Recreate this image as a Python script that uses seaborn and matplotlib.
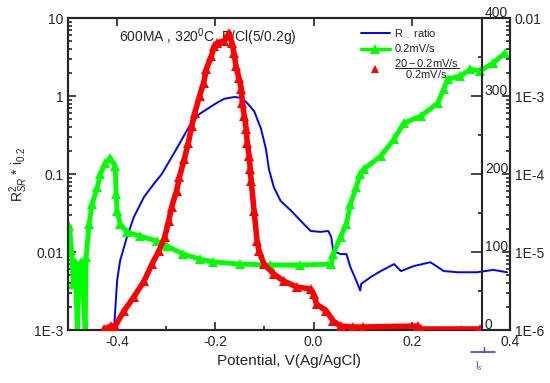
#!/usr/bin/env python3
"""
Polarisation plot: R ratio, 0.2 mV/s current and (20-0.2)/0.2 ratio vs potential.
Three y scales share one potential axis (Origin-style layout).
"""

import matplotlib
matplotlib.use("Agg")
import matplotlib.pyplot as plt
import matplotlib.transforms as mtransforms
from matplotlib.lines import Line2D
from matplotlib.ticker import MultipleLocator, LogLocator, NullFormatter
import numpy as np
import pandas as pd
import seaborn as sns

# --- Data ---
# R ratio, left log axis
BLUE_X = [-0.406, -0.400, -0.394, -0.380, -0.366, -0.345, -0.325, -0.309, -0.279,
          -0.253, -0.232, -0.198, -0.182, -0.162, -0.147, -0.135, -0.121, -0.107,
          -0.097, -0.091, -0.081, -0.067, -0.046, -0.026, -0.006, 0.014, 0.030,
          0.036, 0.040, 0.055, 0.067, 0.075, 0.087, 0.095, 0.097, 0.117, 0.137,
          0.164, 0.178, 0.204, 0.238, 0.265, 0.293, 0.333, 0.366, 0.394]
BLUE_Y = [0.0011, 0.0043, 0.0077, 0.0156, 0.028, 0.051, 0.075, 0.10, 0.21,
          0.41, 0.59, 0.81, 0.92, 0.97, 0.95, 0.81, 0.64, 0.38,
          0.21, 0.116, 0.068, 0.045, 0.034, 0.025, 0.0186, 0.0181, 0.0186,
          0.0156, 0.0103, 0.0094, 0.0094, 0.0064, 0.0043, 0.0032, 0.0039, 0.0048, 0.0057,
          0.0070, 0.0057, 0.0066, 0.0074, 0.0057, 0.0055, 0.0055, 0.0059, 0.0055]

# 0.2 mV/s current, right log axis
GREEN_X = [-0.497, -0.493, -0.489, -0.485, -0.481, -0.477, -0.473, -0.469, -0.465,
           -0.463, -0.457, -0.451, -0.440, -0.434, -0.424, -0.414, -0.404, -0.402,
           -0.400, -0.394, -0.380, -0.354, -0.319, -0.299, -0.265, -0.232, -0.204,
           -0.149, -0.089, -0.028, 0.036, 0.040, 0.055, 0.067, 0.075, 0.087, 0.095,
           0.103, 0.137, 0.164, 0.184, 0.218, 0.253, 0.265, 0.273, 0.299, 0.319,
           0.339, 0.366, 0.390]
GREEN_Y = [2.15e-5, 1.06e-5, 3.9e-6, 7.5e-6, 1.0e-6, 5.1e-6, 7.5e-6, 3.3e-6, 1.0e-6,
           8.6e-6, 2.3e-5, 4.1e-5, 6.8e-5, 1.0e-4, 1.38e-4, 1.60e-4, 1.27e-4, 5.5e-5,
           3.4e-5, 2.3e-5, 1.8e-5, 1.6e-5, 1.38e-5, 1.19e-5, 9.4e-6, 8.1e-6, 7.45e-6,
           7.0e-6, 6.8e-6, 6.8e-6, 7.0e-6, 9.4e-6, 1.56e-5, 2.3e-5, 4.1e-5, 6.8e-5, 1.0e-4,
           1.16e-4, 1.7e-4, 2.8e-4, 4.5e-4, 5.5e-4, 8.1e-4, 1.23e-3, 1.65e-3, 1.8e-3, 2.2e-3,
           2.1e-3, 2.65e-3, 3.56e-3]

# (20-0.2)/0.2 ratio, linear axis 0-400
RED_X = [-0.426, -0.412, -0.404, -0.386, -0.366, -0.345, -0.329, -0.315, -0.303,
         -0.295, -0.289, -0.279, -0.273, -0.263, -0.255, -0.248, -0.242, -0.232,
         -0.224, -0.218, -0.208, -0.202, -0.196, -0.182, -0.172, -0.166, -0.162,
         -0.158, -0.152, -0.147, -0.145, -0.141, -0.137, -0.135, -0.131, -0.129,
         -0.127, -0.121, -0.115, -0.111, -0.101, -0.081, -0.061, -0.034, -0.006,
         0.000, 0.006, 0.026, 0.040, 0.055, 0.081, 0.101, 0.212, 0.218, 0.339]
RED_Y = [1.3, 5.1, 5.1, 24.4, 42.3, 62.8, 84.6, 101.3, 119.2,
         139.7, 157.7, 178.2, 196.2, 219.2, 239.7, 261.5, 278.2, 300.0,
         316.7, 334.6, 351.3, 364.1, 368.0, 370.5, 380.8, 368.0, 355.1,
         338.5, 323.1, 309.0, 291.0, 274.4, 257.7, 239.7, 223.1, 206.4,
         191.0, 152.6, 114.1, 101.3, 84.6, 71.8, 62.8, 55.1, 52.6,
         46.2, 33.3, 24.4, 11.5, 5.1, 3.8, 3.8, 5.1, 1.3, 1.3]

X_TICKS = [-0.4, -0.2, 0.0, 0.2, 0.4]
X_LABELS = ["-0.4", "-0.2", "0.0", "0.2", "0.4"]
LEFT_TICKS = [1e-3, 1e-2, 1e-1, 1, 10]
LEFT_LABELS = ["1E-3", "0.01", "0.1", "1", "10"]
RIGHT_TICKS = [1e-6, 1e-5, 1e-4, 1e-3, 1e-2]
RIGHT_LABELS = ["1E-6", "1E-5", "1E-4", "1E-3", "0.01"]
RED_TICKS = [0, 100, 200, 300, 400]
RED_LABELS = ["0", "100", "200", "300", "400"]

BLUE = "#0000ff"
GREEN = "#00ff00"
RED = "#ff0000"


def style_axis(a):
    a.tick_params(axis="both", which="both", direction="in", width=1.2, labelsize=10)
    a.tick_params(which="major", length=6)
    a.tick_params(which="minor", length=3)


def main():
    sns.set_theme(style="ticks")
    plt.rcParams["font.family"] = ["Liberation Sans", "DejaVu Sans"]
    plt.rcParams["mathtext.fontset"] = "custom"
    plt.rcParams["mathtext.rm"] = "Liberation Sans"
    plt.rcParams["mathtext.it"] = "Liberation Sans:italic"
    plt.rcParams["axes.unicode_minus"] = False
    plt.rcParams["axes.linewidth"] = 1.5

    blue = pd.DataFrame({"x": BLUE_X, "y": BLUE_Y})
    green = pd.DataFrame({"x": GREEN_X, "y": GREEN_Y})
    red = pd.DataFrame({"x": RED_X, "y": RED_Y})

    fig = plt.figure(figsize=(5.5, 3.83), dpi=100)
    ax = fig.add_axes([68 / 550, 53 / 383, 442 / 550, 312 / 383])
    ax2 = ax.twinx()
    ax3 = ax.twinx()

    # left: R ratio
    sns.lineplot(data=blue, x="x", y="y", ax=ax, color=BLUE, lw=1.4,
                 sort=False, estimator=None)
    ax.set_yscale("log")
    ax.set_ylim(1e-3, 10)
    ax.set_xlim(-0.5, 0.4)
    ax.set_xticks(X_TICKS, X_LABELS)
    ax.xaxis.set_minor_locator(MultipleLocator(0.1))
    ax.set_yticks(LEFT_TICKS, LEFT_LABELS)
    ax.yaxis.set_minor_locator(LogLocator(base=10, subs=np.arange(2, 10)))
    ax.yaxis.set_minor_formatter(NullFormatter())
    style_axis(ax)
    ax.tick_params(top=True, right=False)
    ax.set_ylabel(r"R$^2_{SR}$ * i$_{0.2}$", fontsize=10, labelpad=3)
    ax.text(0.115, 0.939, r"600MA , 320$^0$C ,B/Cl(5/0.2g)", transform=ax.transAxes,
            fontsize=10, va="center", ha="left")

    # right log: 0.2 mV/s current
    sns.lineplot(data=green, x="x", y="y", ax=ax2, color=GREEN, lw=3.5,
                 marker="^", markersize=6.5, markeredgewidth=0, sort=False, estimator=None)
    ax2.set_yscale("log")
    ax2.set_ylim(1e-6, 1e-2)
    ax2.set_yticks(RIGHT_TICKS, RIGHT_LABELS)
    ax2.yaxis.set_minor_locator(LogLocator(base=10, subs=np.arange(2, 10)))
    ax2.yaxis.set_minor_formatter(NullFormatter())
    style_axis(ax2)
    ax2.set_ylabel("")

    # inner linear axis: ratio
    sns.lineplot(data=red, x="x", y="y", ax=ax3, color=RED, lw=4,
                 marker="^", markersize=7.5, markeredgewidth=0, sort=False, estimator=None)
    ax3.set_ylim(0, 400)
    ax3.set_yticks(RED_TICKS, RED_LABELS)
    ax3.yaxis.set_minor_locator(MultipleLocator(50))
    ax3.spines["right"].set_position(("axes", 414 / 442))
    for s in ("top", "bottom", "left"):
        ax3.spines[s].set_visible(False)
    style_axis(ax3)
    ax3.tick_params(axis="y", which="major", length=8, pad=2)
    ax3.set_ylabel("")
    shift = mtransforms.ScaledTranslation(0, 5 / 72, fig.dpi_scale_trans)
    for lab in ax3.get_yticklabels():
        lab.set_transform(lab.get_transform() + shift)

    for a in (ax, ax2):
        a.set_xlim(-0.5, 0.4)
    ax.set_xlabel("Potential, V(Ag/AgCl)", fontsize=11, labelpad=4)

    # legend
    handles = [
        Line2D([], [], color=BLUE, lw=1.4),
        Line2D([], [], color=GREEN, lw=2.5, marker="^", markersize=7, markeredgewidth=0),
        Line2D([], [], color=RED, lw=0, marker="^", markersize=6, markeredgewidth=0),
    ]
    labels = [r"R$_{.\,.}$ ratio", "0.2mV/s",
              r"$\dfrac{\mathrm{20-0.2mV/s}}{\mathrm{0.2mV/s}}$"]
    ax3.legend(handles, labels, loc="upper left", bbox_to_anchor=(0.645, 0.995),
               frameon=False, fontsize=8, handlelength=2.6, handletextpad=0.4,
               labelspacing=0.3, borderpad=0.2)

    # stray "I_s" marker under the axis
    trans = ax.get_xaxis_transform()
    ax.plot([0.32, 0.369], [-0.07, -0.07], color="#3c3cff", lw=1.2,
            transform=trans, clip_on=False)
    ax.plot([0.347, 0.347], [-0.07, -0.055], color="#3c3cff", lw=1.0,
            transform=trans, clip_on=False)
    ax.text(0.329, -0.115, r"I$_s$", color="#3c3cff", fontsize=7,
            transform=trans, ha="left", va="center")

    fig.savefig("out.png", dpi=100)
    plt.close(fig)


if __name__ == "__main__":
    main()
